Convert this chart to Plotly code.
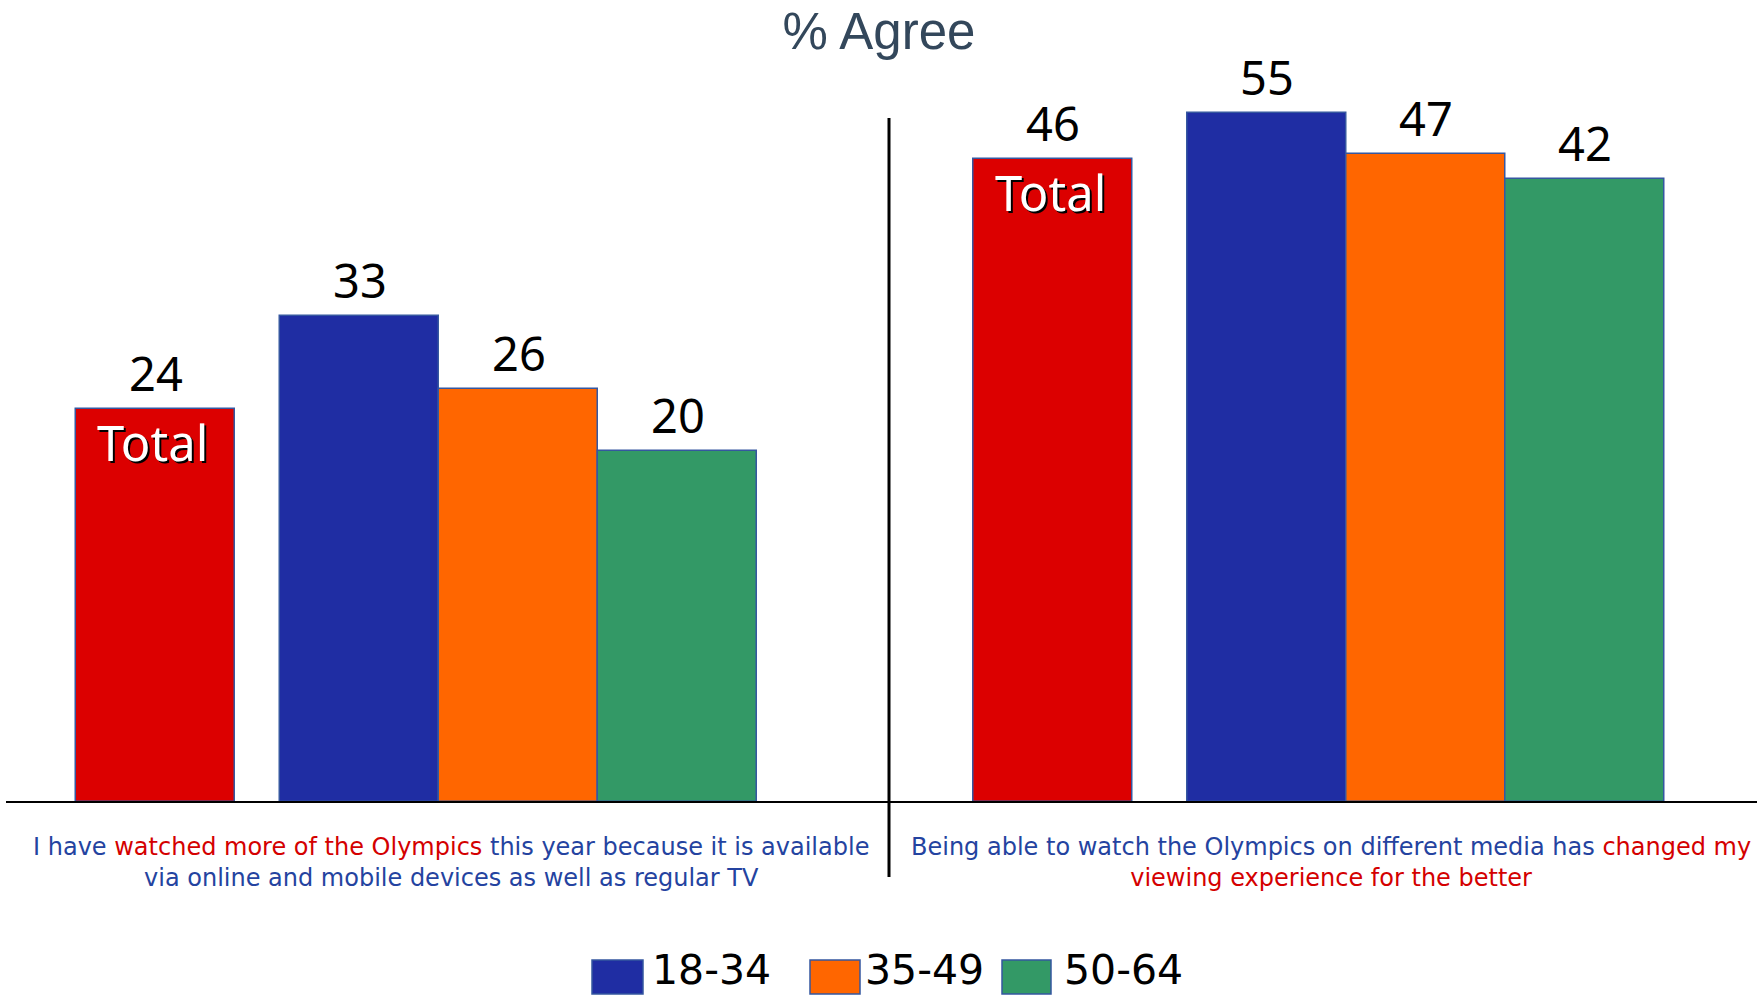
import plotly.graph_objects as go

# ---------------- data ----------------
categories = ["Total", "18-34", "35-49", "50-64"]
left_values = [24, 33, 26, 20]
right_values = [46, 55, 47, 42]
left_caption = ("I have <span style='color:#D40000'>watched more of the Olympics</span> "
                "this year because it is available<br>via online and mobile devices as well as regular TV")
right_caption = ("Being able to watch the Olympics on different media has "
                 "<span style='color:#D40000'>changed my</span><br>"
                 "<span style='color:#D40000'>viewing experience for the better</span>")
title_text = "% Agree"
legend_labels = ["18-34", "35-49", "50-64"]

# ---------------- style / layout ----------------
colors = ["#DC0000", "#1F2DA3", "#FF6600", "#339966"]
outline = "#3557A0"
FONT = "Noto Sans"
CAP_FONT = "DejaVu Sans"
TITLE_FONT = "Liberation Sans"
W, H = 1763, 995
left_pos = [0, 1.285, 2.285, 3.285]
right_pos = [0, 1.343, 2.343, 3.343]
left_floor, left_top = -13.67, 63.3
right_floor, right_top = -80.6, 77.3
base_y = (H - 802) / H

fig = go.Figure()
fig.add_trace(go.Bar(
    x=left_pos, y=[v - left_floor for v in left_values], base=left_floor,
    width=1, marker=dict(color=colors, line=dict(color=outline, width=1.5)),
    xaxis="x", yaxis="y", showlegend=False, customdata=categories,
    hovertemplate="%{customdata}<extra></extra>"))
fig.add_trace(go.Bar(
    x=right_pos, y=[v - right_floor for v in right_values], base=right_floor,
    width=1, marker=dict(color=colors, line=dict(color=outline, width=1.5)),
    xaxis="x2", yaxis="y2", showlegend=False, customdata=categories,
    hovertemplate="%{customdata}<extra></extra>"))

annotations = []
for pos, vals, xr, yr in [(left_pos, left_values, "x", "y"), (right_pos, right_values, "x2", "y2")]:
    for i, (p, v) in enumerate(zip(pos, vals)):
        annotations.append(dict(x=p, y=v, xref=xr, yref=yr, text=str(v), showarrow=False,
                                xanchor="center", yanchor="middle", yshift=36,
                                font=dict(family=FONT, size=47, color="black")))
    annotations.append(dict(x=pos[0], y=vals[0], xref=xr, yref=yr, text=categories[0],
                            showarrow=False, xanchor="center", yanchor="middle",
                            yshift=-33, xshift=-3,
                            font=dict(family=FONT, size=49, color="white",
                                      shadow="2px 2px 0px #000000")))

# captions
annotations.append(dict(x=451 / W, y=(H - 862) / H, xref="paper", yref="paper",
                        text=left_caption, showarrow=False, align="center",
                        xanchor="center", yanchor="middle",
                        font=dict(family=CAP_FONT, size=24, color="#2443A0")))
annotations.append(dict(x=1331 / W, y=(H - 862) / H, xref="paper", yref="paper",
                        text=right_caption, showarrow=False, align="center",
                        xanchor="center", yanchor="middle",
                        font=dict(family=CAP_FONT, size=24, color="#2443A0")))

# manual legend
shapes = []
legend_sq = [(592, 643), (810, 860), (1002, 1051)]
legend_tx = [651, 864, 1063]
for (x0, x1), tx, lab, col in zip(legend_sq, legend_tx, legend_labels, colors[1:]):
    shapes.append(dict(type="rect", xref="paper", yref="paper",
                       x0=x0 / W, x1=x1 / W, y0=(H - 994) / H, y1=(H - 960) / H,
                       fillcolor=col, line=dict(color=outline, width=1.5)))
    annotations.append(dict(x=tx / W, y=(H - 970) / H, xref="paper", yref="paper",
                            text=lab, showarrow=False, xanchor="left", yanchor="middle",
                            borderpad=0,
                            font=dict(family=CAP_FONT, size=41, color="black")))

# baseline and divider
shapes.append(dict(type="line", xref="paper", yref="paper", x0=6 / W, x1=1757 / W,
                   y0=base_y, y1=base_y, line=dict(color="black", width=2)))
shapes.append(dict(type="line", xref="paper", yref="paper", x0=889 / W, x1=889 / W,
                   y0=(H - 118) / H, y1=(H - 877) / H, line=dict(color="black", width=3)))

hidden = dict(visible=False, showgrid=False, zeroline=False, fixedrange=True)
fig.update_layout(
    width=W, height=H, margin=dict(l=0, r=0, t=0, b=0),
    paper_bgcolor="white", plot_bgcolor="rgba(0,0,0,0)",
    title=dict(text=title_text, x=879 / W, xanchor="center", y=(H - 31) / H, yanchor="middle",
               yref="container", font=dict(family=TITLE_FONT, size=51, color="#33475B")),
    xaxis=dict(domain=[0, 0.5], range=[-0.978, 4.566], **hidden),
    xaxis2=dict(domain=[0.5, 1], range=[-1.079, 4.465], **hidden),
    yaxis=dict(domain=[base_y, 1], range=[left_floor, left_top], **hidden),
    yaxis2=dict(domain=[base_y, 1], range=[right_floor, right_top], anchor="x2", **hidden),
    annotations=annotations, shapes=shapes, showlegend=False, bargap=0,
)
fig.write_html("out.html")
